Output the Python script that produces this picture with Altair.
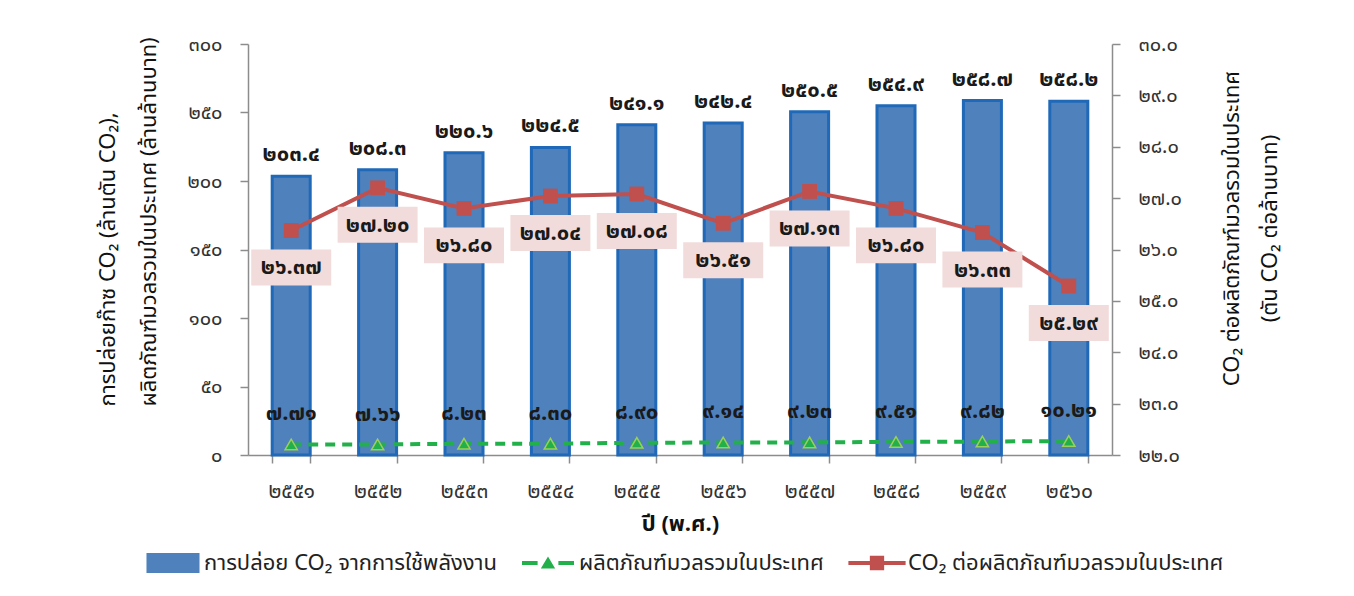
import altair as alt
import pandas as pd

years = ["๒๕๕๑", "๒๕๕๒", "๒๕๕๓", "๒๕๕๔", "๒๕๕๕", "๒๕๕๖", "๒๕๕๗", "๒๕๕๘", "๒๕๕๙", "๒๕๖๐"]
emissions = [203.4, 208.3, 220.6, 224.5, 241.1, 242.4, 250.5, 254.9, 258.7, 258.2]
gdp = [7.71, 7.66, 8.23, 8.30, 8.90, 9.14, 9.23, 9.51, 9.82, 10.21]
intensity = [26.37, 27.20, 26.80, 27.04, 27.08, 26.51, 27.13, 26.80, 26.33, 25.29]
left_ticks = [0, 50, 100, 150, 200, 250, 300]
right_ticks = [22, 23, 24, 25, 26, 27, 28, 29, 30]
series = ["การปล่อย CO₂ จากการใช้พลังงาน", "ผลิตภัณฑ์มวลรวมในประเทศ", "CO₂ ต่อผลิตภัณฑ์มวลรวมในประเทศ"]
series_fill = ["#4F81BD", "#22B04A", "#C0504D"]
series_shape = [
    "M-2.04,-0.77H2.04V0.77H-2.04Z",
    "M-2.0,-0.16H-0.8V0.16H-2.0Z M0.8,-0.16H2.0V0.16H0.8Z M-0.55,0.42L0,-0.5L0.55,0.42Z",
    "M-2.2,-0.15H2.2V0.15H-2.2Z M-0.55,-0.55H0.55V0.55H-0.55Z",
]

THAI = str.maketrans("0123456789", "๐๑๒๓๔๕๖๗๘๙")


def th(s):
    return s.translate(THAI)


FONT = "Noto Sans Thai, Noto Sans, Tahoma, sans-serif"

df = pd.DataFrame({"year": years, "em": emissions, "gdp": gdp, "ci": intensity})
df["em_lbl"] = [th(f"{v:.1f}") for v in emissions]
df["gdp_lbl"] = [th(f"{v:.2f}") for v in gdp]
df["ci_lbl"] = [th(f"{v:.2f}") for v in intensity]
leg_df = pd.DataFrame({"series": series})

left_expr = " : ".join(f"datum.value == {v} ? '{th(str(v))}'" for v in left_ticks) + " : datum.label"
right_expr = " : ".join(f"datum.value == {v} ? '{th(f'{v:.1f}')}'" for v in right_ticks) + " : datum.label"

xscale = alt.Scale(domain=years, paddingInner=0.56, paddingOuter=0.28)
AX = "#8c8c8c"
x_axis = alt.Axis(
    title="ปี (พ.ศ.)", titleFontWeight="bold", titleFontSize=22, titlePadding=12,
    titleColor="#111", labelFontSize=21, labelColor="#333", labelPadding=17, labelAngle=0,
    tickBand="extent", tickSize=8, tickColor=AX, domainColor=AX, domainWidth=1.5, tickWidth=1.5,
)
X = alt.X("year:N", sort=years, scale=xscale, axis=x_axis)

lscale = alt.Scale(domain=[0, 300], nice=False, zero=True)
rscale = alt.Scale(domain=[22, 30], nice=False, zero=False)

left_axis = alt.Axis(
    values=left_ticks, labelExpr=left_expr, grid=False,
    title=["การปล่อยก๊าซ CO₂ (ล้านตัน CO₂),", "ผลิตภัณฑ์มวลรวมในประเทศ (ล้านล้านบาท)"],
    titleFontSize=22, titleFontWeight="normal", titleColor="#111", titleLineHeight=41,
    titleAlign="left", titleY=362,
    titlePadding=26, labelFontSize=20, labelColor="#333", labelPadding=18,
    tickSize=8, tickColor=AX, domainColor=AX, domainWidth=1.5, tickWidth=1.5,
)
right_axis = alt.Axis(
    orient="right", values=right_ticks, labelExpr=right_expr, grid=False,
    title=["CO₂ ต่อผลิตภัณฑ์มวลรวมในประเทศ", "(ตัน CO₂ ต่อล้านบาท)"],
    titleFontSize=22, titleFontWeight="normal", titleColor="#111", titleLineHeight=38,
    titleAngle=270, titleY=184, titlePadding=24, labelFontSize=20, labelColor="#333", labelPadding=18,
    tickSize=8, tickColor=AX, domainColor=AX, domainWidth=1.5, tickWidth=1.5,
)
YL = lambda f: alt.Y(f, scale=lscale, axis=left_axis)
YR = lambda f: alt.Y(f, scale=rscale, axis=right_axis)

LBL = dict(baseline="middle", fontWeight="bold", fontSize=22, color="#1a1a1a", font=FONT)

base = alt.Chart(df)

bars = base.mark_bar(fill="#4F81BD", stroke="#1F69B8", strokeWidth=3).encode(x=X, y=YL("em:Q"))
bar_text = base.mark_text(dy=-22, **LBL).encode(x=X, y=YL("em:Q"), text="em_lbl:N")
gdp_line = base.mark_line(color="#22B04A", strokeWidth=4, strokeDash=[10, 7]).encode(x=X, y=YL("gdp:Q"))
gdp_pts = base.mark_point(shape="triangle-up", filled=True, fill="#22B04A", stroke="#9BD05A",
                          strokeWidth=1.5, size=150, opacity=1).encode(x=X, y=YL("gdp:Q"))
gdp_text = base.mark_text(dy=-31, **LBL).encode(x=X, y=YL("gdp:Q"), text="gdp_lbl:N")
legend_layer = alt.Chart(leg_df).transform_filter("false").mark_point(filled=True, opacity=1).encode(
    fill=alt.Fill("series:N", scale=alt.Scale(domain=series, range=series_fill),
                  legend=alt.Legend(
                      title=None, orient="none", legendX=-88, legendY=506, direction="horizontal",
                      symbolSize=676, symbolOpacity=1, symbolStrokeWidth=0, labelFontSize=22,
                      labelFont=FONT, labelColor="#222", labelOffset=18, labelLimit=500,
                      columnPadding=24, padding=0)),
    shape=alt.Shape("series:N", scale=alt.Scale(domain=series, range=series_shape), legend=alt.Legend(title=None)),
)

left = alt.layer(bars, bar_text, gdp_line, gdp_pts, gdp_text, legend_layer)

rbase = alt.Chart(df)
ci_line = rbase.mark_line(color="#C0504D", strokeWidth=4).encode(x=X, y=YR("ci:Q"))
ci_pts = rbase.mark_point(shape="square", filled=True, color="#C0504D", size=220, opacity=1).encode(x=X, y=YR("ci:Q"))
boxes = rbase.transform_calculate(
    top="datum.ci - 0.37", bot="datum.ci - 1.07"
).mark_bar(width=80, fill="#F2DCDB").encode(x=X, y=YR("top:Q"), y2="bot:Q")
box_text = rbase.mark_text(dy=37, **LBL).encode(x=X, y=YR("ci:Q"), text="ci_lbl:N")
right = alt.layer(ci_line, ci_pts, boxes, box_text)

chart = alt.layer(left, right).resolve_scale(y="independent").properties(
    width=864, height=411,
    padding={"left": 240, "top": 36, "right": 230, "bottom": 125},
    autosize=alt.AutoSizeParams(type="none"),
    background="white",
).configure(font=FONT).configure_view(stroke=None)

chart.save("out.html", embed_options={"renderer": "svg", "actions": False})
